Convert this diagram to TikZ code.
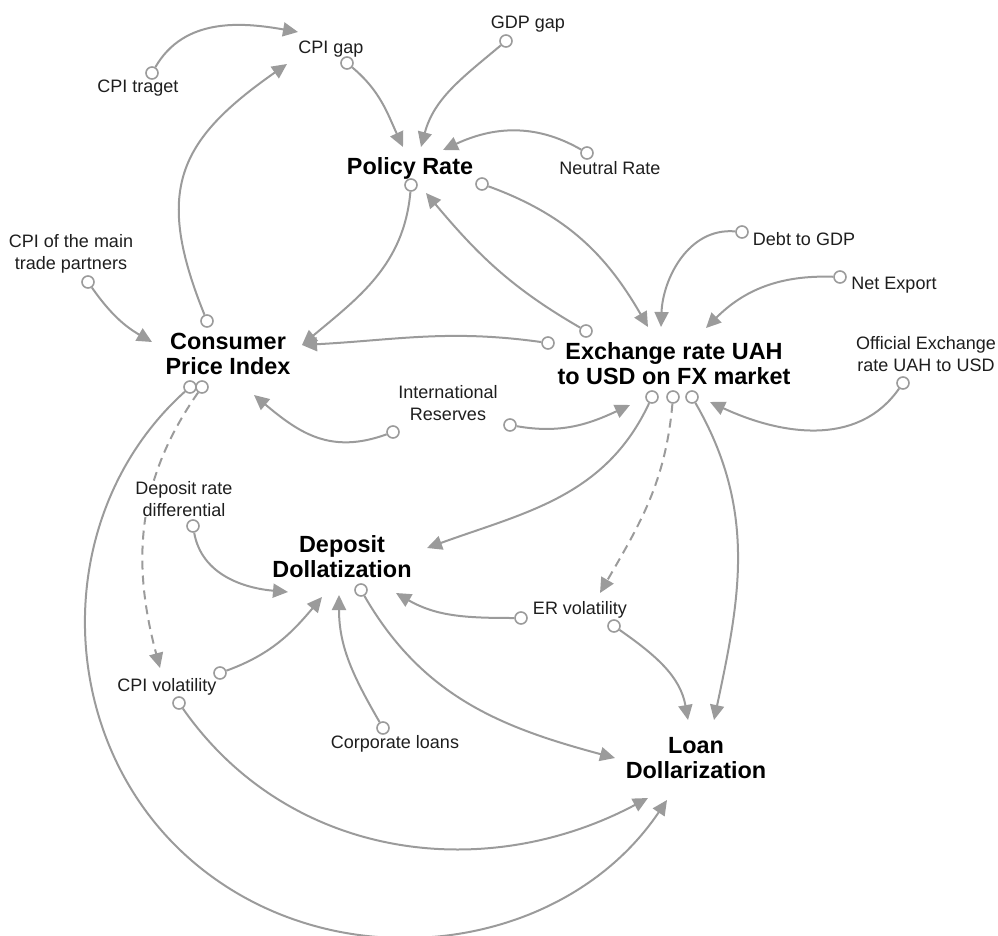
\documentclass[tikz,border=0pt]{standalone}
\usepackage{fontspec}
\setmainfont{Liberation Sans}
\usetikzlibrary{arrows.meta}
\definecolor{linkgray}{RGB}{155,155,155}
\definecolor{txt}{RGB}{30,30,30}
\pgfdeclarelayer{fg}
\pgfsetlayers{main,fg}
\begin{document}
\begin{tikzpicture}[x=1pt,y=1pt,
  link/.style={draw=linkgray, line width=2pt, -{Triangle[length=15pt,width=14pt]}},
  dashlink/.style={link, dash pattern=on 9pt off 6pt},
  tailc/.style={circle, draw=linkgray, fill=white, line width=1.6pt, minimum size=12pt, inner sep=0pt},
  lbl/.style={font=\fontsize{18}{21.5}\selectfont, text=txt, fill=white, inner sep=1pt, align=center},
  mainlbl/.style={font=\fontsize{23.4}{25}\selectfont\bfseries, text=black, fill=white, inner sep=1pt, align=center}]
\useasboundingbox (0,0) rectangle (998,-936);

\begin{pgfonlayer}{fg}
\node[tailc] (t1) at (152,-73) {};
\node[tailc] (t2) at (207,-321) {};
\node[tailc] (t3) at (347,-63) {};
\node[tailc] (t4) at (506,-41) {};
\node[tailc] (t5) at (587,-153) {};
\node[tailc] (t6) at (411,-185) {};
\node[tailc] (t7) at (482,-184) {};
\node[tailc] (t8) at (742,-232) {};
\node[tailc] (t9) at (840,-277) {};
\node[tailc] (t10) at (586,-331) {};
\node[tailc] (t11) at (548,-343) {};
\node[tailc] (t12) at (393,-432) {};
\node[tailc] (t13) at (510,-425) {};
\node[tailc] (t14) at (903,-383) {};
\node[tailc] (t15) at (88,-282) {};
\node[tailc] (t16) at (652,-397) {};
\node[tailc] (t17) at (673,-397) {};
\node[tailc] (t18) at (692,-397) {};
\node[tailc] (t19) at (190,-387) {};
\node[tailc] (t20) at (202,-387) {};
\node[tailc] (t21) at (193,-526) {};
\node[tailc] (t22) at (220,-673) {};
\node[tailc] (t23) at (383,-728) {};
\node[tailc] (t24) at (521,-618) {};
\node[tailc] (t25) at (361,-590) {};
\node[tailc] (t26) at (614,-626) {};
\node[tailc] (t27) at (179,-703) {};
\end{pgfonlayer}

\coordinate (h1) at (298,-32);
\coordinate (h2) at (287,-64);
\coordinate (h3) at (403,-147);
\coordinate (h4) at (421,-147);
\coordinate (h5) at (443,-150);
\coordinate (h6) at (302,-345);
\coordinate (h7) at (648,-327);
\coordinate (h8) at (661,-327);
\coordinate (h9) at (706,-328);
\coordinate (h10) at (426,-193);
\coordinate (h11) at (302,-345);
\coordinate (h12) at (254,-395);
\coordinate (h13) at (630,-405);
\coordinate (h14) at (710,-402);
\coordinate (h15) at (152,-342);
\coordinate (h16) at (427,-548);
\coordinate (h17) at (600,-593);
\coordinate (h18) at (714,-720);
\coordinate (w19) at (191,-860);
\coordinate (h19) at (667,-800);
\coordinate (h20) at (160,-668);
\coordinate (h21) at (288,-592);
\coordinate (h22) at (322,-597);
\coordinate (h23) at (339,-595);
\coordinate (h24) at (396,-593);
\coordinate (h25) at (615,-758);
\coordinate (h26) at (688,-720);
\coordinate (h27) at (648,-798);

\draw[link] (t1) to[out=60,in=170] (h1);
\draw[link] (t2) to[out=112,in=-145,looseness=1.3] (h2);
\draw[link] (t3) to[out=-40,in=115] (h3);
\draw[link] (t4) to[out=-140,in=75] (h4);
\draw[link] (t5) to[out=150,in=25] (h5);
\draw[link] (t6) to[out=-95,in=40] (h6);
\draw[link] (t7) to[out=-20,in=120] (h7);
\draw[link] (t8) to[out=175,in=88] (h8);
\draw[link] (t9) to[out=178,in=45] (h9);
\draw[link] (t10) to[out=150,in=-50] (h10);
\draw[link] (t11) to[out=172,in=3] (h11);
\draw[link] (t12) to[out=-160,in=-40,looseness=1.1] (h12);
\draw[link] (t13) to[out=-10,in=-155] (h13);
\draw[link] (t14) to[out=-125,in=-25] (h14);
\draw[link] (t15) to[out=-55,in=150] (h15);
\draw[link] (t16) to[out=-115,in=20] (h16);
\draw[dashlink] (t17) to[out=-95,in=60] (h17);
\draw[link] (t18) to[out=-60,in=78] (h18);
\draw[link] (t19) to[out=-138,in=139] (w19) to[out=-41,in=-124] (h19);
\draw[dashlink] (t20) to[out=-125,in=105] (h20);
\draw[link] (t21) to[out=-80,in=175] (h21);
\draw[link] (t22) to[out=20,in=-130] (h22);
\draw[link] (t23) to[out=120,in=-90] (h23);
\draw[link] (t24) to[out=180,in=-30] (h24);
\draw[link] (t25) to[out=-60,in=165] (h25);
\draw[link] (t26) to[out=-35,in=100] (h26);
\draw[link] (t27) to[out=-55,in=-152] (h27);

\node[lbl] (cpigap) at (331,-49) {CPI gap};
\node[lbl] (gdpgap) at (528,-24) {GDP gap};
\node[lbl] (cpitarget) at (138,-88) {CPI traget};
\node[mainlbl] (policy) at (410,-168) {Policy Rate};
\node[lbl] (neutral) at (610,-168) {Neutral Rate};
\node[lbl] (cpimain) at (71,-254) {CPI of the main\\trade partners};
\node[lbl] (debt) at (804,-239) {Debt to GDP};
\node[lbl] (netexp) at (894,-285) {Net Export};
\node[mainlbl] (cpi) at (228,-354) {Consumer\\Price Index};
\node[mainlbl] (fx) at (674,-364) {Exchange rate UAH\\to USD on FX market};
\node[lbl] (official) at (926,-354) {Official Exchange\\rate UAH to USD};
\node[lbl] (reserves) at (448,-403) {International\\Reserves};
\node[lbl] (drd) at (184,-499) {Deposit rate\\differential};
\node[mainlbl] (depd) at (342,-557) {Deposit\\Dollatization};
\node[lbl] (ervol) at (580,-610) {ER volatility};
\node[lbl] (cpivol) at (167,-687) {CPI volatility};
\node[lbl] (corp) at (395,-744) {Corporate loans};
\node[mainlbl] (loand) at (696,-758) {Loan\\Dollarization};
\end{tikzpicture}
\end{document}
